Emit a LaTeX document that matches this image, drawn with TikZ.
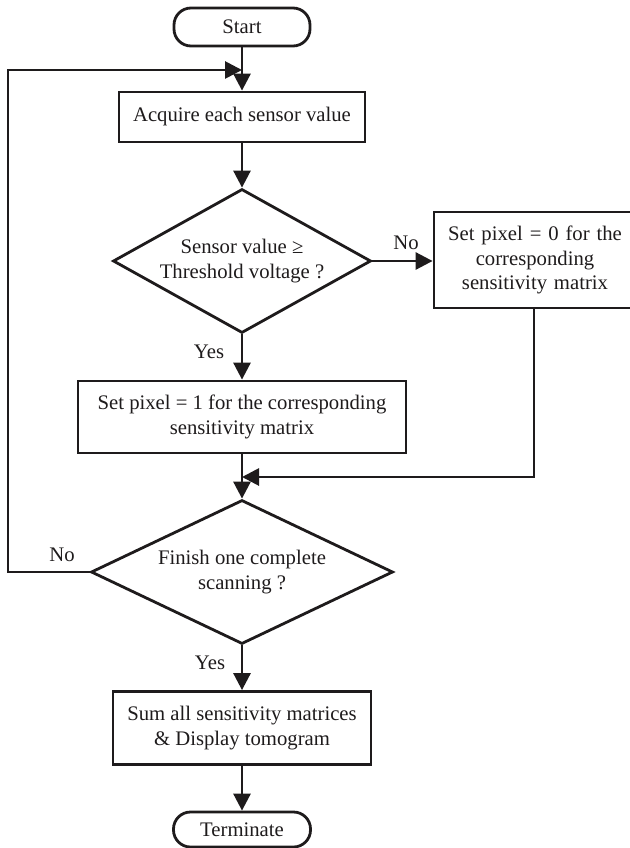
\documentclass[tikz,border=0pt]{standalone}
\usepackage{fontspec}
\setmainfont{Liberation Serif}
\usetikzlibrary{shapes.geometric,arrows.meta}
\definecolor{ink}{RGB}{30,27,28}
\tikzset{
  base/.style={draw=ink, line width=2.8pt, text=ink, align=center, inner sep=0pt,
    font=\fontsize{20.7}{24.5}\selectfont},
  procbox/.style={base, rectangle},
  termbox/.style={base, rectangle, rounded corners=17pt},
  decbox/.style={base, diamond},
  conn/.style={draw=ink, line width=2.8pt, -{Triangle[length=17pt,width=17pt]}},
  lbl/.style={text=ink, inner sep=0pt, font=\fontsize{20.7}{24.5}\selectfont},
}
\begin{document}
\begin{tikzpicture}[x=1pt,y=-1pt]
\useasboundingbox (0,0) rectangle (629,848);
\node[termbox, minimum width=136pt, minimum height=38pt] (start) at (242,27) {Start};
\node[procbox, minimum width=246pt, minimum height=50pt] (acq) at (242,117) {Acquire each sensor value};
\node[decbox, minimum width=258pt, minimum height=144pt, aspect=1.79] (d1) at (242,261) {Sensor value ≥\\Threshold voltage ?};
\node[procbox, minimum width=208pt, minimum height=96pt, text width=200pt] (r0) at (538,260) {\hspace*{-6pt}Set pixel = 0 for the\\\hspace*{-6pt}corresponding\\\hspace*{-6pt}sensitivity matrix};
\node[procbox, minimum width=328pt, minimum height=72pt] (s1) at (242,417) {Set pixel = 1 for the corresponding\\sensitivity matrix};
\node[decbox, minimum width=302pt, minimum height=144pt, aspect=2.1] (d2) at (242,572) {Finish one complete\\scanning ?};
\node[procbox, minimum width=258pt, minimum height=73pt] (sum) at (242,728) {Sum all sensitivity matrices\\\& Display tomogram};
\node[termbox, minimum width=137pt, minimum height=35pt] (term) at (242,829.5) {Terminate};

\node[lbl] (no1) at (406,243) {No};
\node[lbl] (yes1) at (209,352) {Yes};
\node[lbl] (no2) at (62,555) {No};
\node[lbl] (yes2) at (210,663) {Yes};

\coordinate (loopL) at (8,572);
\coordinate (loopT) at (242,70);
\coordinate (mergeP) at (242,477);
\coordinate (r0out) at (534,308);

\draw[conn] (start) -- (acq);
\draw[conn] (acq) -- (d1);
\draw[conn] (d1.east) -- (r0.west |- d1.east);
\draw[conn] (d1) -- (s1);
\draw[conn] (s1) -- (d2);
\draw[conn] (r0out) |- (mergeP);
\draw[conn] (d2.west) -- (loopL) |- (loopT);
\draw[conn] (d2) -- (sum);
\draw[conn] (sum) -- (term);
\end{tikzpicture}
\end{document}
